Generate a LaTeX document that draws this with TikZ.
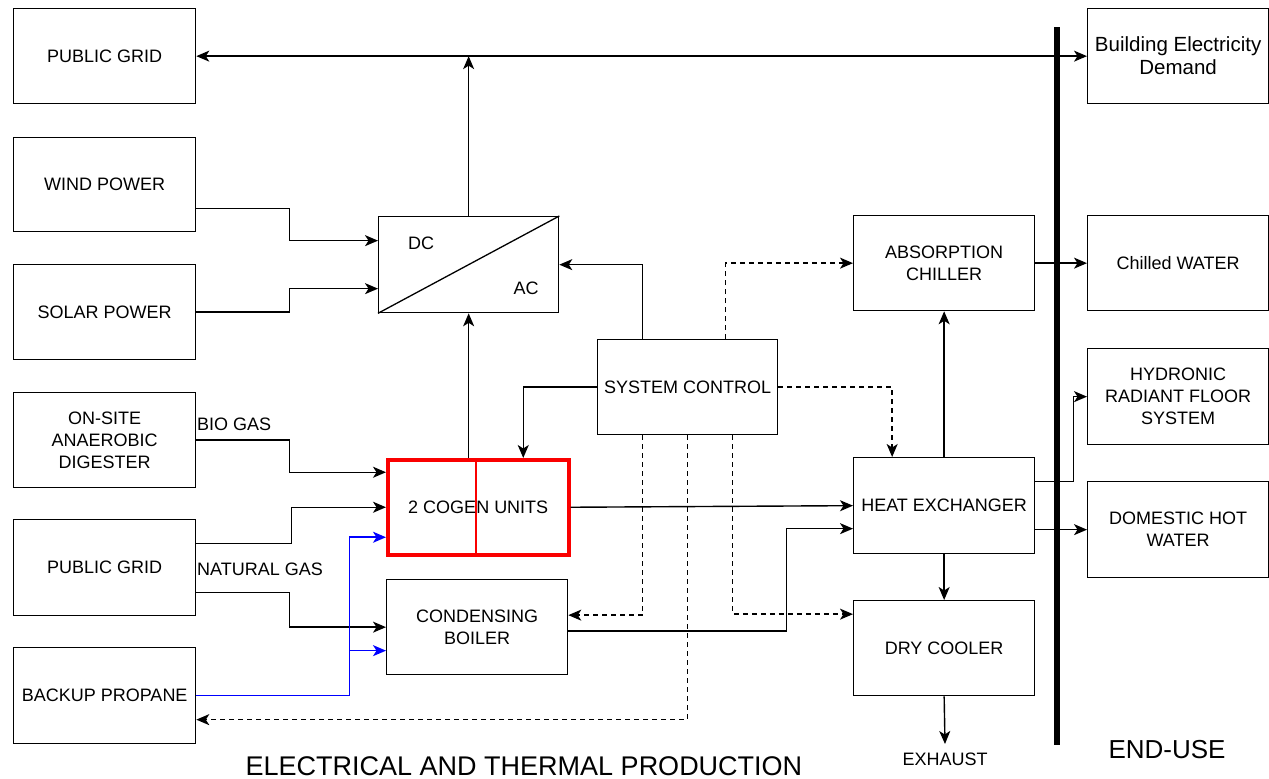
\documentclass[tikz,border=0pt]{standalone}
\usepackage{fontspec}
\setmainfont{Liberation Sans}
\usetikzlibrary{arrows.meta,calc}
\definecolor{propblue}{RGB}{0,0,255}
\definecolor{cogenred}{RGB}{250,0,0}
\tikzset{
  box/.style={draw, line width=1.3pt, anchor=north west, align=center, inner sep=0pt,
    font=\fontsize{18}{22}\selectfont},
  lbl/.style={inner sep=0pt, font=\fontsize{18}{22}\selectfont},
  arr/.style={line width=1.4pt, -{Stealth[length=13pt,width=11pt,inset=3.5pt]}},
  arrb/.style={line width=1.4pt, {Stealth[length=13pt,width=11pt,inset=3.5pt]}-{Stealth[length=13pt,width=11pt,inset=3.5pt]}},
  darr/.style={arr, dash pattern=on 5pt off 4pt},
  barr/.style={arr, line width=1.6pt, draw=propblue},
}
\begin{document}
\begin{tikzpicture}[x=1pt,y=-1pt]
\useasboundingbox (0,0) rectangle (1269,779);
% left column
\node[box, minimum width=182, minimum height=95] (pg1) at (13,8) {PUBLIC GRID};
\node[box, minimum width=182, minimum height=94] (wind) at (13,137) {WIND POWER};
\node[box, minimum width=182, minimum height=95] (solar) at (13,264) {SOLAR POWER};
\node[box, minimum width=182, minimum height=95] (dig) at (13,392) {ON-SITE\\ANAEROBIC\\DIGESTER};
\node[box, minimum width=182, minimum height=96] (pg2) at (13,519) {PUBLIC GRID};
\node[box, minimum width=182, minimum height=96] (bp) at (13,647) {BACKUP PROPANE};
% middle
\node[box, minimum width=180, minimum height=96] (dcac) at (378,216) {};
\node[lbl] (dclbl) at (421,243) {DC};
\node[lbl] (aclbl) at (526,288) {AC};
\node[box, draw=cogenred, line width=3.5pt, minimum width=181, minimum height=95] (cogen) at (386,458) {};
\draw[cogenred, line width=2pt] ([xshift=-2.5pt]cogen.north) -- ([xshift=-2.5pt]cogen.south);
\node[lbl] (cogenlbl) at (cogen.center) {2 COGEN UNITS};
\node[box, minimum width=181, minimum height=95] (boiler) at (386,579) {CONDENSING\\BOILER};
\node[box, minimum width=180, minimum height=95] (sc) at (597,339) {SYSTEM CONTROL};
\node[box, minimum width=181, minimum height=95] (chiller) at (853,215) {ABSORPTION\\CHILLER};
\node[box, minimum width=181, minimum height=96] (hx) at (853,457) {HEAT EXCHANGER};
\node[box, minimum width=181, minimum height=95] (dry) at (853,600) {DRY COOLER};
% right column
\node[box, minimum width=181, minimum height=95, font=\fontsize{20.5}{23}\selectfont] (bed) at (1087,8) {Building Electricity\\Demand};
\node[box, minimum width=181, minimum height=95] (cw) at (1087,215) {Chilled WATER};
\node[box, minimum width=181, minimum height=96] (hyd) at (1087,348) {HYDRONIC\\RADIANT FLOOR\\SYSTEM};
\node[box, minimum width=181, minimum height=96] (dhw) at (1087,481) {DOMESTIC HOT\\WATER};
% labels
\node[lbl, anchor=west] (biogas) at (197,424) {BIO GAS};
\node[lbl, anchor=west] (natgas) at (197,569) {NATURAL GAS};
\node[lbl, anchor=north] (exh) at (945,753) {EXHAUST};
\node[inner sep=0pt, font=\fontsize{27}{30}\selectfont] (title) at (524,766) {ELECTRICAL AND THERMAL PRODUCTION};
\node[inner sep=0pt, font=\fontsize{26}{30}\selectfont] (enduse) at (1167,750) {END-USE};
% bar
\draw[line width=6pt] (1057,27) -- (1057,745);
% DC/AC diagonal
\draw[line width=1.3pt] (dcac.south west) -- (dcac.north east);
% connectors
\draw[arrb] (pg1.east) -- (bed.west);
\draw[arr] (dcac.north) -- (dcac.north |- pg1.east);
\draw[arr] ([yshift=-24pt]wind.east) -- ++(93,0) |- ([yshift=24pt]dcac.west);
\draw[arr] (solar.east) -- ++(93,0) |- ([yshift=-24pt]dcac.west);
\draw[arr] (dcac.south |- cogen.north) -- (dcac.south);
\draw[arr] ([xshift=-45pt]sc.north) |- (dcac.east);
\draw[darr] ([xshift=38pt]sc.north) |- (chiller.west);
\draw[arr] (sc.west) -| ([xshift=45pt]cogen.north);
\draw[darr] (sc.east) -| ([xshift=-52pt]hx.north);
\draw[darr] ([xshift=-45pt]sc.south) |- ([yshift=12pt]boiler.east);
\draw[darr] (sc.south) |- ([yshift=-24pt]bp.east);
\draw[darr] ([xshift=45pt]sc.south) |- ([yshift=34pt]dry.west);
\draw[arr] (cogen.east) -- (hx.west);
\draw[arr] ([yshift=-4pt]boiler.east) -- ++(218,0) |- ([yshift=-23pt]hx.west);
\draw[arr] (hx.north) -- (chiller.south);
\draw[arr] (hx.south) -- (dry.north);
\draw[arr] (dry.south) -- ([yshift=9pt]exh.north);
\draw[arr] (chiller.east) -- (cw.west);
\draw[arr] ([yshift=24pt]hx.east) -- ++(38,0) |- (hyd.west);
\draw[arr] (hx.east |- dhw.west) -- (dhw.west);
\draw[arr] (dig.east) -- ++(93,0) |- ([yshift=35pt]cogen.west);
\draw[arr] ([yshift=24pt]pg2.east) -- ++(95,0) |- (cogen.west);
\draw[arr] ([yshift=-25pt]pg2.east) -- ++(93,0) |- (boiler.west);
\coordinate (bj) at ([xshift=153pt]bp.east);
\coordinate (bb) at ([yshift=-23.5pt]boiler.west);
\draw[barr] (bp.east) -- (bj) |- ([yshift=-30pt]cogen.west);
\draw[barr] (bj |- bb) -- (bb);
\end{tikzpicture}
\end{document}
